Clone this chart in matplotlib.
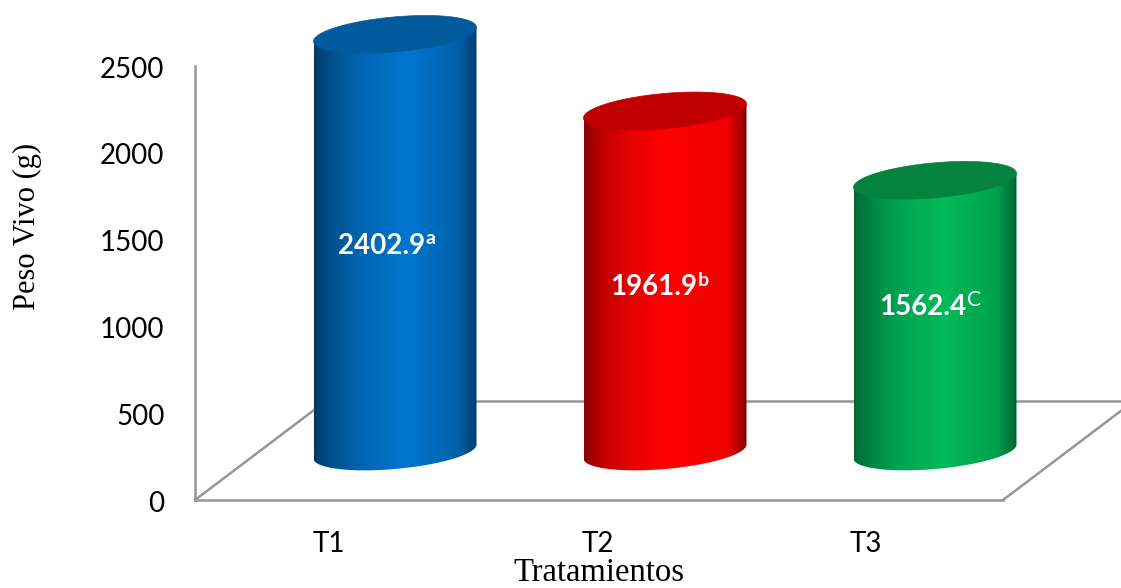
import numpy as np
import matplotlib
matplotlib.use('Agg')
import matplotlib.pyplot as plt
from matplotlib.colors import LinearSegmentedColormap
from matplotlib.patches import Polygon
from matplotlib.transforms import ScaledTranslation

tratamientos = ['T1', 'T2', 'T3']
peso = [2402.9, 1961.9, 1562.4]
letras = ['a', 'b', 'C']
yticks = [0, 500, 1000, 1500, 2000, 2500]

# colours of each cylinder: side gradient stops and flat lid
lados = [
    [(0, '#003a6a'), (0.12, '#00538f'), (0.3, '#0066b4'), (0.58, '#0076d0'), (0.88, '#0062ab'), (1, '#003d6c')],
    [(0, '#8a0000'), (0.12, '#c40000'), (0.3, '#e80000'), (0.5, '#ff0000'), (0.88, '#f00000'), (1, '#850000')],
    [(0, '#006a35'), (0.12, '#008a43'), (0.3, '#00a653'), (0.55, '#00bb5a'), (0.88, '#00a04e'), (1, '#006232')],
]
tapas = ['#005a9b', '#c00000', '#04833f']

W, H = 1121, 588
Y0 = 500        # pixel row of the zero line
ESC = 0.1736    # pixels per gram


def vy(py):
    # pixel row to axis value
    return (Y0 - py) / ESC


fig = plt.figure(figsize=(W / 100, H / 100), dpi=100)
ax = fig.add_axes([0, 0, 1, 1])
ax.set_facecolor('none')

# floor of the 3d box
gris = '#969696'
ax.plot([195, 326], [vy(500), vy(401)], color=gris, lw=1.8, zorder=1)
ax.plot([1003, 1134], [vy(500), vy(401)], color=gris, lw=1.8, zorder=1)
ax.plot([326, W], [vy(401), vy(401)], color=gris, lw=1.8, zorder=1)

# cylinders
centros = [395, 665, 935]
a = 81.5
b = 17.5
k = 7.0
base = vy(451.5)
t_abajo = np.linspace(np.pi, 2 * np.pi, 100)
t_todo = np.linspace(0, 2 * np.pi, 200)

for cx, v, stops, tapa in zip(centros, peso, lados, tapas):
    top = base + v
    xb = cx + a * np.cos(t_abajo)
    yb = base + (b * np.sin(t_abajo) + k * np.cos(t_abajo)) / ESC
    xs = np.concatenate([xb, [cx + a, cx - a]])
    ys = np.concatenate([yb, [top + k / ESC, top - k / ESC]])
    cuerpo = Polygon(np.column_stack([xs, ys]), closed=True, transform=ax.transData,
                     facecolor='none', edgecolor='none')
    ax.add_patch(cuerpo)
    cmap = LinearSegmentedColormap.from_list('lado', stops)
    im = ax.imshow(np.linspace(0, 1, 256).reshape(1, -1), cmap=cmap, aspect='auto',
                   extent=[cx - a, cx + a, base - 200, top + 200], zorder=3,
                   interpolation='bilinear')
    im.set_clip_path(cuerpo)
    xt = cx + a * np.cos(t_todo)
    yt = top + (b * np.sin(t_todo) + k * np.cos(t_todo)) / ESC
    ax.fill(xt, yt, color=tapa, lw=0.5, zorder=4)

ax.set_xlim(0, W)
ax.set_ylim(vy(H), vy(0))

# axes
for s in ['top', 'right']:
    ax.spines[s].set_visible(False)
ax.spines['left'].set_position(('data', 195))
ax.spines['left'].set_bounds(0, 2500)
ax.spines['bottom'].set_position(('data', 0))
ax.spines['bottom'].set_bounds(195, 1003)
for s in ['left', 'bottom']:
    ax.spines[s].set_color(gris)
    ax.spines[s].set_linewidth(1.8)
    ax.spines[s].set_zorder(1)

ax.set_yticks(yticks)
ax.set_xticks([329, 598, 866])
ax.set_xticklabels(tratamientos)
ax.tick_params(length=0, labelsize=20, labelfontfamily='Lato', colors='black')
ax.tick_params(axis='y', pad=22)
ax.tick_params(axis='x', pad=22)
baja = ScaledTranslation(0, -1 / 100, fig.dpi_scale_trans)
for lab in ax.get_yticklabels():
    lab.set_transform(lab.get_transform() + baja)

ax.text(599, vy(573), 'Tratamientos', family='Liberation Serif', fontsize=23.5,
        ha='center', va='center')
ax.text(27, vy(226), 'Peso Vivo (g)', family='Liberation Serif', fontsize=22,
        rotation=90, ha='center', va='center')

# value labels with the significance letter raised
fin_x = [425, 697, 966]
fila = [246, 287, 307]
for x, py, v, l in zip(fin_x, fila, peso, letras):
    ax.text(x, vy(py), f'{v:.1f}', family='Lato', fontweight='bold', fontsize=20,
            color='white', ha='right', va='center', zorder=5)
    ax.text(x + 1, vy(py - 7), l, family='Lato', fontweight='bold' if l != 'C' else 'normal',
            fontsize=14 if l != 'C' else 15, color='white', ha='left', va='center', zorder=5)

fig.savefig('out.png', dpi=100)
